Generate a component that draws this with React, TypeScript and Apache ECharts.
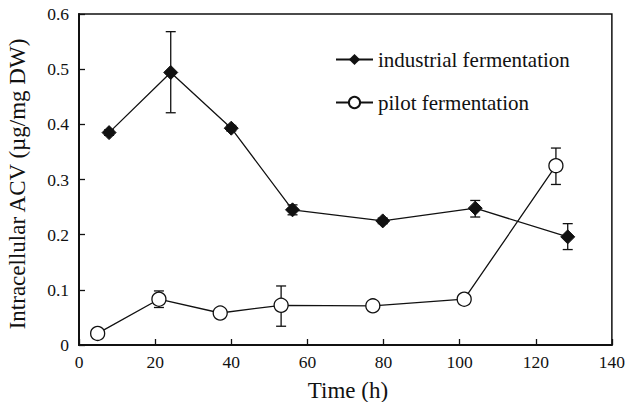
import React, { useEffect, useRef } from "react";
import * as echarts from "echarts";

const industrialTime = [7.9, 24.1, 40.0, 56.1, 79.8, 104.1, 128.4];
const industrialValue = [0.385, 0.494, 0.393, 0.245, 0.225, 0.248, 0.196];
const industrialLow = [0.38, 0.421, 0.388, 0.236, 0.22, 0.232, 0.173];
const industrialHigh = [0.39, 0.568, 0.398, 0.254, 0.23, 0.262, 0.22];

const pilotTime = [4.9, 21.0, 37.1, 53.1, 77.2, 101.2, 125.3];
const pilotValue = [0.021, 0.083, 0.058, 0.072, 0.071, 0.083, 0.325];
const pilotLow = [0.018, 0.068, 0.055, 0.034, 0.068, 0.08, 0.291];
const pilotHigh = [0.024, 0.098, 0.061, 0.107, 0.074, 0.086, 0.357];

const FONT = "Liberation Serif, Times New Roman, serif";

function errorSeries(t: number[], lo: number[], hi: number[]) {
  return {
    type: "custom",
    silent: true,
    z: 1,
    data: t.map((x, i) => [x, lo[i], hi[i]]),
    renderItem: (_p: any, api: any) => {
      const x = api.value(0);
      const a = api.coord([x, api.value(1)]);
      const b = api.coord([x, api.value(2)]);
      const w = 5;
      const style = { stroke: "#111", lineWidth: 1.3 };
      return {
        type: "group",
        children: [
          { type: "line", shape: { x1: a[0], y1: a[1], x2: b[0], y2: b[1] }, style },
          { type: "line", shape: { x1: a[0] - w, y1: a[1], x2: a[0] + w, y2: a[1] }, style },
          { type: "line", shape: { x1: b[0] - w, y1: b[1], x2: b[0] + w, y2: b[1] }, style },
        ],
      };
    },
  };
}

export default function App() {
  const ref = useRef<HTMLDivElement>(null);
  useEffect(() => {
    if (!ref.current) return;
    const chart = echarts.init(ref.current, null, { renderer: "svg" });
    chart.setOption({
      animation: false,
      backgroundColor: "#fff",
      textStyle: { fontFamily: FONT },
      grid: {
        left: 79,
        right: 14,
        top: 14,
        bottom: 57,
        show: true,
        borderColor: "#111",
        borderWidth: 1.5,
      },
      legend: {
        orient: "vertical",
        left: 335,
        top: 49,
        padding: 0,
        itemWidth: 37,
        itemHeight: 14,
        itemGap: 22,
        textStyle: { fontFamily: FONT, fontSize: 21, color: "#111" },
        data: ["industrial fermentation", "pilot fermentation"],
      },
      xAxis: {
        type: "value",
        min: 0,
        max: 140,
        interval: 20,
        axisLine: { show: true, lineStyle: { color: "#111", width: 2 } },
        axisTick: { show: true, inside: true, length: 6, lineStyle: { color: "#111", width: 1.3 } },
        splitLine: { show: false },
        axisLabel: { color: "#111", fontSize: 17.5, fontFamily: FONT, margin: 8 },
      },
      yAxis: {
        type: "value",
        min: 0,
        max: 0.6,
        interval: 0.1,
        axisLine: { show: true, lineStyle: { color: "#111", width: 2 } },
        axisTick: { show: true, inside: true, length: 6, lineStyle: { color: "#111", width: 1.3 } },
        splitLine: { show: false },
        axisLabel: {
          color: "#111",
          fontSize: 17.5,
          fontFamily: FONT,
          margin: 10,
          formatter: (v: number) => (v === 0 ? "0" : v.toFixed(1)),
        },
      },
      graphic: [
        {
          type: "text",
          x: 348,
          y: 390,
          style: {
            text: "Time (h)",
            font: `23px ${FONT}`,
            fill: "#111",
            textAlign: "center",
            textVerticalAlign: "middle",
          },
        },
        {
          type: "text",
          x: 6,
          y: 184,
          rotation: Math.PI / 2,
          style: {
            text: "Intracellular ACV (µg/mg DW)",
            font: `23px ${FONT}`,
            fill: "#111",
            textAlign: "center",
            textVerticalAlign: "top",
          },
        },
      ],
      series: [
        errorSeries(industrialTime, industrialLow, industrialHigh),
        errorSeries(pilotTime, pilotLow, pilotHigh),
        {
          name: "industrial fermentation",
          type: "line",
          z: 3,
          data: industrialTime.map((x, i) => [x, industrialValue[i]]),
          symbol: "diamond",
          symbolSize: 14,
          itemStyle: { color: "#111", borderColor: "#111" },
          lineStyle: { color: "#111", width: 1.3 },
        },
        {
          name: "pilot fermentation",
          type: "line",
          z: 3,
          data: pilotTime.map((x, i) => [x, pilotValue[i]]),
          symbol: "circle",
          symbolSize: 14,
          showAllSymbol: true,
          itemStyle: { color: "#fff", borderColor: "#111", borderWidth: 1.3 },
          lineStyle: { color: "#111", width: 1.3 },
        },
      ],
    });
    return () => chart.dispose();
  }, []);
  return <div ref={ref} style={{ width: 628, height: 402, position: "absolute", left: 0, top: 0 }} />;
}
